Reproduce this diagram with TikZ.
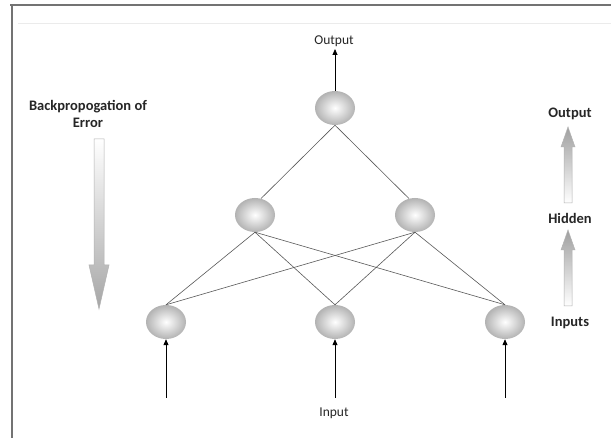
\documentclass[tikz,border=0pt]{standalone}
\usepackage{fontspec}
\setmainfont{Carlito}
\usetikzlibrary{arrows.meta,shapes.geometric}
\begin{document}
\begin{tikzpicture}[x=1pt,y=-1pt,
  neuron/.style={ellipse,minimum width=40pt,minimum height=34pt,inner sep=0pt,inner color=white,outer color=gray!60,draw=none},
  conn/.style={draw=black!65,line width=0.6pt},
  inarrow/.style={draw=black,line width=0.8pt,-{Triangle[length=6pt,width=5pt]}},
  lbl/.style={font=\fontsize{13.5}{15}\selectfont,text=black!85,inner sep=0pt},
  blbl/.style={font=\fontsize{14.5}{17}\selectfont\bfseries,text=black!85,inner sep=0pt,align=center},
  frame/.style={draw=black!55,line width=2pt}
]
\useasboundingbox (0,0) rectangle (611,438);
\fill[white] (0,0) rectangle (611,438);
% frame
\draw[frame] (10,5) -- (611,5);
\draw[frame] (12,5) -- (12,438);
\draw[black!8,line width=0.8pt] (18,23) -- (611,23);

% neurons
\node[neuron] (O) at (335,108) {};
\node[neuron] (H1) at (255,215) {};
\node[neuron] (H2) at (415,215) {};
\node[neuron] (I1) at (166,322) {};
\node[neuron] (I2) at (335,322) {};
\node[neuron] (I3) at (505,322) {};

% connections
\draw[conn] (O.south) -- (H1.70);
\draw[conn] (O.south) -- (H2.110);
\foreach \h in {H1,H2}{
  \foreach \i in {I1,I2,I3}{
    \draw[conn] (\h.south) -- (\i.north);
  }
}

% output
\node[lbl] (out) at (334,41) {Output};
\coordinate (outtip) at (335,49);
\draw[inarrow] (O.north) -- (outtip);

% inputs
\coordinate (b1) at (166,398);
\coordinate (b2) at (335,398);
\coordinate (b3) at (505,398);
\draw[inarrow] (b1) -- (I1.south);
\draw[inarrow] (b2) -- (I2.south);
\draw[inarrow] (b3) -- (I3.south);
\node[lbl] (inp) at (334,413) {Input};

% left backprop arrow
\node[blbl] (bp) at (88,114) {Backpropogation of\\Error};
\shade[top color=white,bottom color=gray!70,draw=gray!60,line width=0.5pt]
  (94,139) -- (104,139) -- (104,265) -- (109,265) -- (99,309) -- (89,265) -- (94,265) -- cycle;

% right layer labels
\node[blbl] (ro) at (570,114) {Output};
\node[blbl] (rh) at (570,218) {Hidden};
\node[blbl] (ri) at (570,323) {Inputs};
\shade[top color=gray!75,bottom color=white,draw=gray!60,line width=0.5pt]
  (568,127) -- (575,147) -- (572,147) -- (572,203) -- (564,203) -- (564,147) -- (561,147) -- cycle;
\shade[top color=gray!75,bottom color=white,draw=gray!60,line width=0.5pt]
  (568,230) -- (575,250) -- (572,250) -- (572,306) -- (564,306) -- (564,250) -- (561,250) -- cycle;
\end{tikzpicture}
\end{document}
